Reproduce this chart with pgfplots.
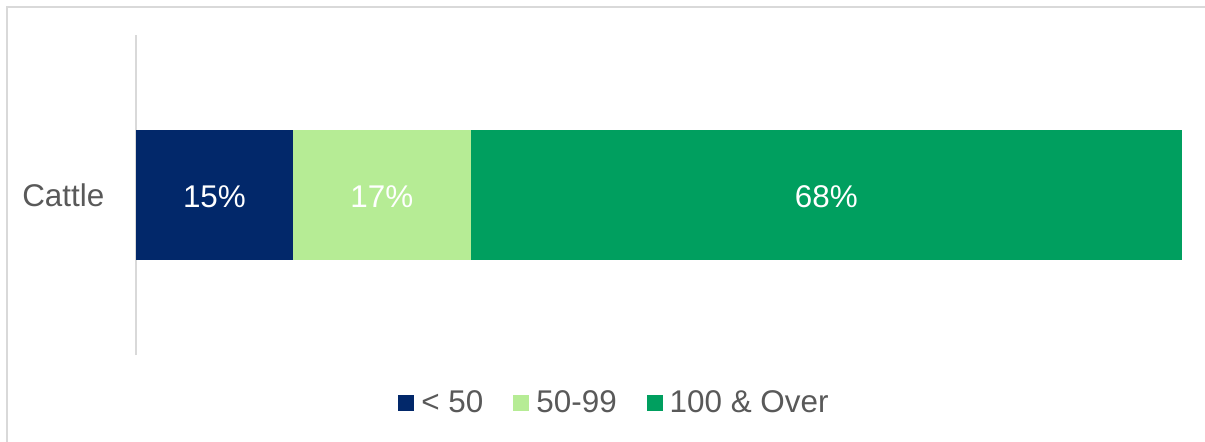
\documentclass[border=0pt]{standalone}
\usepackage{fontspec}
\setmainfont{Liberation Sans}
\usepackage{pgfplots}
\pgfplotsset{compat=1.18}
\definecolor{navyc}{HTML}{02286A}
\definecolor{lightg}{HTML}{B6EC95}
\definecolor{greenc}{HTML}{009F5F}
\definecolor{txtgray}{HTML}{595959}
\definecolor{linegray}{HTML}{D9D9D9}
\pgfplotsset{frame/.style={at={(68pt,-177.5pt)}, anchor=south west,
  scale only axis, width=523pt, height=160pt,
  xmin=0, xmax=100, ymin=-1, ymax=1}}
\begin{document}
\begin{tikzpicture}
\path[use as bounding box] (0,0) rectangle (602.5pt,-220.5pt);
\draw[linegray,line width=1pt] (3.5pt,-230pt) -- (3.5pt,-3.5pt) -- (610pt,-3.5pt);
\begin{axis}[frame,
  xbar stacked, bar width=65pt,
  axis x line=none, axis y line=left,
  axis line style={-,linegray,line width=1pt},
  ytick={0}, yticklabels={Cattle}, ytick style={draw=none},
  yticklabel style={inner sep=0pt,xshift=-13.5pt,text=txtgray,font=\fontsize{15.7}{18}\selectfont},
  legend style={at={(0.4565,-0.15)},anchor=center,draw=none,legend columns=-1,
    font=\fontsize{15.7}{18}\selectfont,text=txtgray,
    nodes={inner sep=0pt},
    /tikz/every odd column/.append style={column sep=3.5pt},
    /tikz/every even column/.append style={column sep=15pt}},
  legend image code/.code={\fill[#1] (0pt,-4pt) rectangle (8pt,4pt);},
]
\addplot[fill=navyc,draw=none] coordinates {(15,0)};
\addlegendentry{< 50}
\addplot[fill=lightg,draw=none] coordinates {(17,0)};
\addlegendentry{50-99}
\addplot[fill=greenc,draw=none] coordinates {(68,0)};
\addlegendentry{100 \& Over}
\end{axis}
% labels at the middle of each segment
\begin{axis}[frame, hide axis]
\addplot[draw=none, mark=none, point meta=explicit symbolic,
  nodes near coords={\pgfplotspointmeta\%},
  every node near coord/.style={white,anchor=center,yshift=-1pt,font=\fontsize{15.7}{18}\selectfont}]
  coordinates {(7.5,0) [15] (23.5,0) [17] (66,0) [68]};
\end{axis}
\end{tikzpicture}
\end{document}
